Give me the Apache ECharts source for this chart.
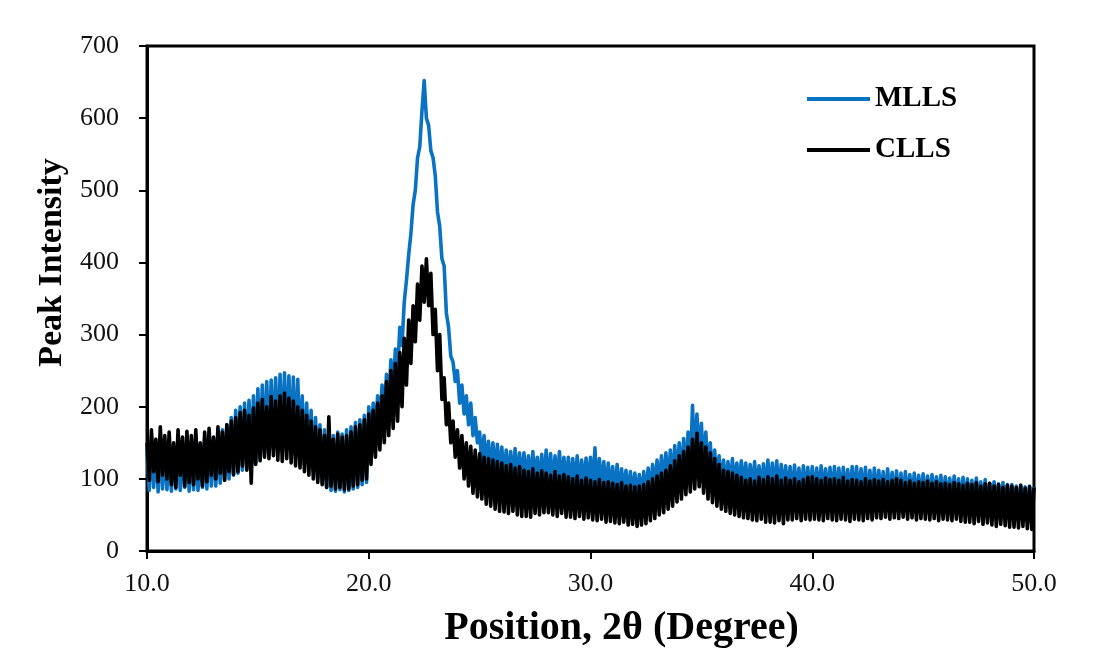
<!DOCTYPE html>
<html>
<head>
<meta charset="utf-8">
<script src="https://cdn.jsdelivr.net/npm/echarts@6/dist/echarts.min.js"></script>
<style>
html,body{margin:0;padding:0;background:#fff;}
#chart{width:1098px;height:650px;}
</style>
</head>
<body>
<div id="chart"></div>
<script>
// Sampling grid: 2θ from 10.0 to 50.0 in 0.1° steps
var thetaStart = 10.0, thetaStep = 0.1, thetaCount = 401;
var xTicks = [10, 20, 30, 40, 50];
var yTicks = [0, 100, 200, 300, 400, 500, 600, 700];

// MLLS intensities, one row per degree
var mlls = [
140,84,155,88,148,82,158,86,150,85,
152,83,145,86,156,84,148,88,155,83,
150,85,158,84,146,88,155,86,160,90,
155,90,162,94,168,98,175,100,185,105,
195,108,200,112,205,115,209,118,215,122,
225,130,230,135,235,138,237,140,240,136,
245,138,247,140,243,136,241,132,238,130,
215,120,205,115,195,110,185,100,175,95,
168,88,165,84,160,83,165,85,162,82,
168,84,172,86,178,88,182,92,188,95,
200,150,205,160,215,175,230,185,245,205,
265,220,280,245,310,285,345,375,410,440,
480,500,545,560,610,652,600,590,555,545,
520,470,450,405,395,330,310,270,262,235,
250,205,230,190,215,175,205,160,185,150,
165,120,160,115,152,110,150,105,148,100,
144,98,140,95,138,96,142,92,136,95,
136,92,132,90,138,94,130,88,134,90,
140,90,135,88,132,92,138,87,130,89,
130,85,128,86,132,84,126,88,129,85,
130,82,143,80,128,84,124,78,122,80,
117,76,120,75,114,77,112,74,110,73,
108,72,106,70,110,74,115,78,120,80,
126,82,132,85,136,88,140,92,146,95,
150,98,156,102,165,110,202,118,190,122,
177,112,165,105,150,100,140,95,132,90,
126,88,124,85,128,86,122,84,125,82,
122,80,120,82,124,79,118,80,121,78,
126,78,122,80,125,77,120,79,118,76,
117,75,119,77,115,74,118,76,116,75,
117,75,115,74,118,76,114,73,116,75,
117,74,115,73,116,75,113,72,117,74,
117,72,114,73,116,71,112,72,115,70,
112,71,110,70,114,72,109,71,111,70,
108,70,110,69,106,71,108,68,105,70,
107,69,104,68,106,70,103,67,105,68,
103,68,101,66,104,67,100,65,102,66,
100,64,98,63,101,65,96,62,99,63,
94,62,96,60,93,61,95,59,92,60,
92,58,90,57,91,56,89,57,90,55,
89
];

// CLLS intensities, one row per degree
var clls = [
150,98,168,110,155,96,172,105,160,100,
165,92,150,88,168,105,158,90,166,95,
160,92,168,100,150,90,165,96,170,105,
158,100,172,108,165,98,175,110,180,106,
185,110,192,118,195,112,188,94,198,120,
205,125,210,130,200,128,214,132,208,126,
215,124,219,128,212,122,208,118,200,115,
195,110,188,105,180,100,172,95,168,92,
160,88,186,90,155,86,162,88,158,85,
160,86,165,90,172,92,175,98,182,100,
190,120,195,130,205,140,215,150,235,160,
250,170,260,180,275,200,295,230,320,260,
340,290,370,320,395,345,405,340,385,300,
335,250,300,210,240,175,205,150,180,130,
168,115,160,100,150,90,145,80,140,75,
135,72,130,65,128,62,126,58,124,55,
122,54,118,52,120,55,115,50,117,48,
112,48,110,47,114,52,108,50,111,53,
108,53,105,50,110,48,104,52,106,47,
103,47,100,45,104,48,98,44,101,46,
98,43,96,42,99,44,95,40,96,41,
94,39,92,38,95,40,90,36,91,37,
89,34,90,36,92,38,96,42,100,45,
104,50,108,53,112,58,118,62,125,68,
132,72,138,78,144,82,155,86,163,89,
150,80,144,72,136,67,128,62,120,58,
112,55,110,52,108,50,105,48,102,46,
98,45,100,43,97,42,102,44,99,40,
103,40,100,39,104,42,98,38,101,43,
98,43,100,45,96,42,99,44,102,43,
103,44,100,43,98,42,101,45,99,43,
100,42,98,44,102,43,97,41,99,44,
98,43,96,42,100,45,97,43,99,46,
97,45,99,47,96,44,98,46,100,45,
98,47,95,44,97,46,94,43,96,45,
95,44,97,43,94,45,96,42,93,44,
94,43,92,42,95,44,93,41,91,40,
94,40,92,38,95,41,90,37,93,39,
94,36,90,34,92,37,88,35,91,33,
90,33,88,32,91,34,87,31,89,30,
88
];

var seriesNames = ['MLLS', 'CLLS'];
var seriesColors = ['#0a72c2', '#000000'];

function pairs(values) {
  var out = [];
  for (var i = 0; i < values.length && i < thetaCount; i++) {
    out.push([+(thetaStart + i * thetaStep).toFixed(1), values[i]]);
  }
  return out;
}

var serif = "'Liberation Serif','Times New Roman',serif";
var chart = echarts.init(document.getElementById('chart'), null, {renderer: 'canvas'});
chart.setOption({
  animation: false,
  backgroundColor: '#ffffff',
  grid: {
    left: 147, right: 64, top: 46, bottom: 99,
    containLabel: false, outerBoundsMode: 'none',
    show: true, borderColor: '#000', borderWidth: 3, backgroundColor: 'transparent'
  },
  legend: {
    data: seriesNames,
    orient: 'vertical',
    left: 807, top: 84, padding: 0,
    icon: 'rect',
    itemWidth: 63, itemHeight: 4,
    itemGap: 21,
    textStyle: {fontFamily: serif, fontWeight: 'bold', fontSize: 29, lineHeight: 30, color: '#000'}
  },
  xAxis: {
    type: 'value', min: xTicks[0], max: xTicks[xTicks.length - 1], interval: 10,
    name: 'Position, 2θ (Degree)', nameLocation: 'middle', nameGap: 58,
    nameTextStyle: {fontFamily: serif, fontWeight: 'bold', fontSize: 40, color: '#000', padding: [0, 0, 0, 62]},
    axisLine: {show: true, lineStyle: {color: '#000', width: 3}},
    axisTick: {show: true, inside: false, length: 8, lineStyle: {color: '#000', width: 2}},
    axisLabel: {fontFamily: serif, fontSize: 26, color: '#111', margin: 20,
      formatter: function (v) { return v.toFixed(1); }},
    splitLine: {show: false}
  },
  yAxis: {
    type: 'value', min: yTicks[0], max: yTicks[yTicks.length - 1], interval: 100,
    name: 'Peak Intensity', nameLocation: 'middle', nameGap: 78, nameRotate: 90,
    nameTextStyle: {fontFamily: serif, fontWeight: 'bold', fontSize: 34, color: '#000', padding: [0, 0, 0, 72]},
    axisLine: {show: true, lineStyle: {color: '#000', width: 3}},
    axisTick: {show: true, inside: false, length: 8, lineStyle: {color: '#000', width: 2}},
    axisLabel: {fontFamily: serif, fontSize: 26, color: '#111', margin: 28},
    splitLine: {show: false}
  },
  series: [
    {name: seriesNames[0], type: 'line', data: pairs(mlls), showSymbol: false, symbol: 'none',
     color: seriesColors[0], lineStyle: {color: seriesColors[0], width: 3.6, join: 'round'}, sampling: null},
    {name: seriesNames[1], type: 'line', data: pairs(clls), showSymbol: false, symbol: 'none',
     color: seriesColors[1], lineStyle: {color: seriesColors[1], width: 3.6, join: 'round'}, sampling: null}
  ]
});
</script>
</body>
</html>
